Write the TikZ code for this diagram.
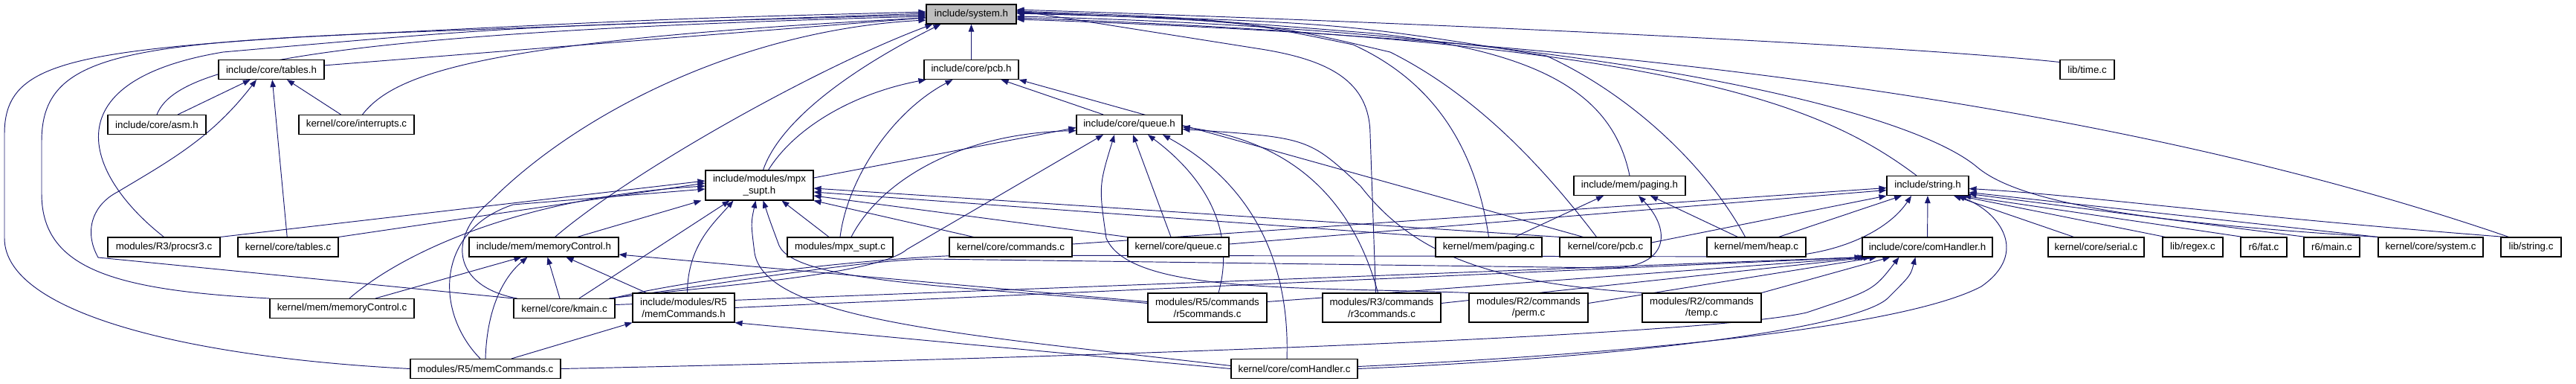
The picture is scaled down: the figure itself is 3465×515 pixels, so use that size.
\documentclass[tikz,border=0pt]{standalone}
\usepackage{fontspec}
\setmainfont{Liberation Sans}
\usetikzlibrary{arrows.meta}
\definecolor{edgec}{HTML}{191970}
\definecolor{selfill}{HTML}{BFBFBF}
\pgfdeclarelayer{bg}
\pgfsetlayers{bg,main}
\begin{document}
\begin{tikzpicture}[x=1pt,y=-1pt,
  box/.style={draw=black, line width=1.1pt, fill=white, inner sep=0pt, minimum height=26pt,
    font=\fontsize{13.3}{15.5}\selectfont, align=center},
  tbox/.style={box, minimum height=40pt},
  inc/.style={draw=edgec, line width=0.95pt, -{Triangle[length=10pt,width=7.5pt]}}]
\useasboundingbox (0,0) rectangle (3465,515);
% row 0
\node[box, fill=selfill, minimum width=121pt] (S) at (1306.5,19) {include/system.h};
% row 1
\node[box, minimum width=142pt] (tables) at (365,93.5) {include/core/tables.h};
\node[box, minimum width=127pt] (pcbh) at (1306.5,93.5) {include/core/pcb.h};
\node[box, minimum width=73pt] (libtime) at (2807.5,93.5) {lib/time.c};
% row 2
\node[box, minimum width=132pt] (asm) at (211,167.5) {include/core/asm.h};
\node[box, minimum width=155pt] (intr) at (479.5,167.5) {kernel/core/interrupts.c};
\node[box, minimum width=142pt] (queueh) at (1519,167.5) {include/core/queue.h};
% row 3
\node[tbox, minimum width=145pt] (mpxh) at (1021.5,249) {include/modules/mpx\\\_supt.h};
\node[box, minimum width=150pt] (pagingh) at (2192,249.5) {include/mem/paging.h};
\node[box, minimum width=110pt] (strh) at (2593,249.5) {include/string.h};
% row 4
\node[box, minimum width=151pt] (procsr3) at (220.5,332) {modules/R3/procsr3.c};
\node[box, minimum width=135pt] (tablesc) at (387.5,332) {kernel/core/tables.c};
\node[box, minimum width=201pt] (mch) at (731.5,332) {include/mem/memoryControl.h};
\node[box, minimum width=142pt] (mpxc) at (1130,332) {modules/mpx\_supt.c};
\node[box, minimum width=165pt] (cmdc) at (1359.5,332) {kernel/core/commands.c};
\node[box, minimum width=136pt] (queuec) at (1585,332) {kernel/core/queue.c};
\node[box, minimum width=143pt] (pagingc) at (2002.5,332) {kernel/mem/paging.c};
\node[box, minimum width=123pt] (pcbc) at (2159.5,332) {kernel/core/pcb.c};
\node[box, minimum width=133pt] (heapc) at (2362.5,332) {kernel/mem/heap.c};
\node[box, minimum width=175pt] (comhh) at (2592.5,332) {include/core/comHandler.h};
\node[box, minimum width=129pt] (serial) at (2819.5,332) {kernel/core/serial.c};
\node[box, minimum width=81pt] (regex) at (2949.5,332) {lib/regex.c};
\node[box, minimum width=62pt] (fat) at (3045,332) {r6/fat.c};
\node[box, minimum width=75pt] (mainc) at (3136.5,332) {r6/main.c};
\node[box, minimum width=141pt] (sysc) at (3269.5,332) {kernel/core/system.c};
\node[box, minimum width=81pt] (strc) at (3404.5,332) {lib/string.c};
% row 5
\node[box, minimum width=194pt] (mcc) at (460,414.5) {kernel/mem/memoryControl.c};
\node[box, minimum width=136pt] (kmain) at (759,414.5) {kernel/core/kmain.c};
\node[tbox, minimum width=137pt, minimum height=39pt] (mcmdh) at (919.5,413.5) {include/modules/R5\\/memCommands.h};
\node[tbox, minimum width=160pt, minimum height=39pt] (r5) at (1624,413.5) {modules/R5/commands\\/r5commands.c};
\node[tbox, minimum width=159pt, minimum height=39pt] (r3) at (1858.5,413.5) {modules/R3/commands\\/r3commands.c};
\node[tbox, minimum width=160pt, minimum height=39pt] (perm) at (2056,413.5) {modules/R2/commands\\/perm.c};
\node[tbox, minimum width=160pt, minimum height=39pt] (temp) at (2289,413.5) {modules/R2/commands\\/temp.c};
% row 6
\node[box, minimum width=202pt] (mcmdc) at (653,495.5) {modules/R5/memCommands.c};
\node[box, minimum width=170pt] (comhc) at (1741,495.5) {kernel/core/comHandler.c};

\begin{pgfonlayer}{bg}
% ---- to system.h, left side
\draw[inc] (tables) -- (S);
\draw[inc] (asm.north) .. controls (235,95) and (380,45) .. ([yshift=-3pt]S.west);
\draw[inc] ([xshift=8pt]intr.north) .. controls (530,100) and (640,55) .. ([yshift=-5pt]S.west);
\draw[inc] (procsr3.north) .. controls (120,240) and (60,110) .. (300,70) .. controls (700,35) .. ([yshift=-1pt]S.west);
\draw[inc] (mcc.north west) .. controls (150,390) and (56,360) .. (56,260) -- (56,190) .. controls (56,80) and (150,60) .. (500,45) .. controls (900,30) .. ([yshift=1pt]S.west);
\draw[inc] (mcmdc.west) .. controls (250,480) and (6,420) .. (6,320) -- (6,180) .. controls (6,90) and (80,70) .. (400,50) .. controls (900,25) .. ([yshift=3pt]S.west);
\draw[inc] ([xshift=5pt]kmain.north west) .. controls (610,385) and (600,320) .. (660,270) .. controls (780,150) and (1000,40) .. ([yshift=-8pt]S.west);
\draw[inc] ([xshift=15pt]mch.north) .. controls (850,230) and (1100,90) .. ([xshift=9pt]S.south west);
\draw[inc] ([xshift=5pt]mpxh.north) .. controls (1050,160) and (1150,90) .. ([xshift=20pt]S.south west);
\draw[inc] (pcbh) -- (S);
% ---- to system.h, right side
\draw[inc] ([yshift=10pt]libtime.west) .. controls (2550,60) and (1900,30) .. ([yshift=6pt]S.east);
\draw[inc] ([xshift=-15pt]strh.north) .. controls (2450,140) and (2250,55) .. ([yshift=-5pt]S.east);
\draw[inc] ([xshift=-30pt]strc.north) .. controls (3000,190) and (2400,60) .. ([yshift=-7pt]S.east);
\draw[inc] (sysc.north west) .. controls (2900,300) and (2720,275) .. (2660,225) .. controls (2560,140) and (2100,40) .. ([yshift=-3pt]S.east);
\draw[inc] (pagingh.north) .. controls (2170,130) and (2080,70) .. (1850,45) .. controls (1600,25) .. ([yshift=2pt]S.east);
\draw[inc] (pagingc.north) .. controls (1985,200) and (1930,110) .. (1820,60) .. controls (1650,25) .. ([yshift=4pt]S.east);
\draw[inc] ([xshift=-12pt]pcbc.north) .. controls (2080,230) and (1990,130) .. (1870,70) .. controls (1700,30) .. ([yshift=3pt]S.east);
\draw[inc] ([xshift=-15pt]heapc.north) .. controls (2300,230) and (2200,130) .. (2080,75) .. controls (1800,30) .. ([yshift=1pt]S.east);
\draw[inc] ([xshift=-8pt]r3.north) -- (1843,180) .. controls (1842,110) and (1790,80) .. (1690,65) .. controls (1500,35) .. ([yshift=5pt]S.east);
% ---- to tables.h
\draw[inc] (asm) -- (tables);
\draw[inc] (intr) -- (tables);
\draw[inc] (tablesc) -- (tables);
\draw[inc] (kmain.north west) -- (132,346) .. controls (112,310) and (125,275) .. (158,258) .. controls (230,215) and (285,185) .. ([xshift=-20pt]tables.south);
% ---- to pcb.h
\draw[inc] ([xshift=12pt]mpxh.north) .. controls (1070,170) and (1150,125) .. ([xshift=3pt]pcbh.south west);
\draw[inc] (mpxc.north) .. controls (1140,240) and (1200,150) .. ([xshift=-25pt]pcbh.south);
\draw[inc] ([xshift=-35pt]queueh.north) -- ([xshift=40pt]pcbh.south);
\draw[inc] ([xshift=-30pt]pcbc.north) -- (pcbh.south east);
% ---- to queue.h
\draw[inc] ([yshift=10pt]mpxh.east) -- ([yshift=-4pt]queueh.west);
\draw[inc] ([xshift=15pt]mpxc.north) .. controls (1180,250) and (1280,180) .. ([yshift=-8pt]queueh.west);
\draw[inc] ([xshift=-8pt]kmain.north east) .. controls (950,385) and (1180,370) .. (1220,335) -- ([xshift=-35pt]queueh.south);
\draw[inc] ([xshift=-10pt]queuec.north) -- ([xshift=5pt]queueh.south);
\draw[inc] ([xshift=15pt]r5.north) .. controls (1665,300) and (1610,230) .. ([xshift=25pt]queueh.south);
\draw[inc] ([xshift=-10pt]comhc.north) .. controls (1735,360) and (1690,250) .. ([xshift=45pt]queueh.south);
\draw[inc] ([xshift=-5pt]r3.north) .. controls (1820,270) and (1740,190) .. ([yshift=-3pt]queueh.east);
\draw[inc] (temp.north west) .. controls (2000,380) and (1900,340) .. (1830,250) .. controls (1760,185) .. ([yshift=-6pt]queueh.east);
\draw[inc] (perm.north west) .. controls (1750,385) and (1520,395) .. (1488,320) .. controls (1478,250) .. ([xshift=-20pt]queueh.south);
% ---- to mpx_supt.h
\draw[inc] (procsr3.north east) -- ([yshift=6pt]mpxh.west);
\draw[inc] (tablesc.north east) -- ([yshift=3pt]mpxh.west);
\draw[inc] ([xshift=10pt]mcc.north) .. controls (540,340) and (700,265) .. ([yshift=-1pt]mpxh.west);
\draw[inc] ([xshift=-7pt]mcmdc.north) .. controls (585,420) and (585,310) .. (690,275) -- ([yshift=-5pt]mpxh.west);
\draw[inc] ([xshift=45pt]mch.north) -- ([xshift=-5pt]mpxh.south west);
\draw[inc] ([xshift=20pt]kmain.north) -- ([xshift=-40pt]mpxh.south);
\draw[inc] ([xshift=5pt]mcmdh.north) .. controls (925,330) and (960,300) .. ([xshift=-35pt]mpxh.south);
\draw[inc] ([yshift=6pt]r5.west) .. controls (1300,385) and (1070,380) .. (1048,330) .. controls (1035,295) .. ([xshift=5pt]mpxh.south);
\draw[inc] ([yshift=4pt]comhc.west) .. controls (1300,450) and (1030,430) .. (1015,340) .. controls (1010,300) .. ([xshift=-5pt]mpxh.south);
\draw[inc] ([xshift=-15pt]mpxc.north) -- ([xshift=30pt]mpxh.south);
\draw[inc] ([xshift=-50pt]cmdc.north) -- (mpxh.south east);
\draw[inc] (queuec.north west) -- ([yshift=-14pt]mpxh.east);
\draw[inc] (pagingc.north west) -- ([yshift=-9pt]mpxh.east);
\draw[inc] (pcbc.north west) -- ([yshift=-4pt]mpxh.east);
% ---- to memoryControl.h
\draw[inc] ([xshift=45pt]mcc.north) -- ([xshift=-30pt]mch.south);
\draw[inc] (mcmdc.north) .. controls (655,410) and (680,370) .. ([xshift=-22pt]mch.south);
\draw[inc] ([xshift=-6pt]kmain.north) -- ([xshift=5pt]mch.south);
\draw[inc] ([xshift=-50pt]mcmdh.north) -- ([xshift=30pt]mch.south);
\draw[inc] ([yshift=8pt]r5.west) -- ([yshift=-10pt]mch.east);
% ---- to memCommands.h
\draw[inc] ([xshift=35pt]mcmdc.north) -- (mcmdh.south west);
\draw[inc] (comhc.west) -- (mcmdh.south east);
% ---- to paging.h
\draw[inc] ([xshift=35pt]pagingc.north) -- ([xshift=-35pt]pagingh.south);
\draw[inc] ([xshift=-25pt]heapc.north) -- ([xshift=28pt]pagingh.south);
\draw[inc] ([xshift=-8pt]kmain.north east) .. controls (950,385) and (1150,350) .. (1250,348) -- (2160,360) .. controls (2245,362) and (2250,310) .. ([xshift=12pt]pagingh.south);
% ---- to string.h
\draw[inc] (comhh) -- (strh);
\draw[inc] ([yshift=4pt]cmdc.east) -- ([yshift=-3pt]strh.west);
\draw[inc] ([yshift=4pt]queuec.east) -- ([yshift=-6pt]strh.west);
\draw[inc] ([yshift=6pt]pcbc.east) -- (strh.south west);
\draw[inc] ([xshift=30pt]heapc.north) -- ([xshift=-35pt]strh.south);
\draw[inc] ([xshift=-4pt]kmain.north east) .. controls (950,370) and (1200,345) .. (1300,343) -- (2380,345) .. controls (2470,345) and (2540,310) .. ([xshift=-22pt]strh.south);
\draw[inc] ([yshift=3pt]comhc.east) .. controls (2200,475) and (2560,440) .. (2665,385) .. controls (2730,340) and (2690,285) .. ([xshift=40pt]strh.south);
\draw[inc] ([xshift=-30pt]serial.north) -- ([xshift=35pt]strh.south);
\draw[inc] ([xshift=-37pt]regex.north) -- ([xshift=42pt]strh.south);
\draw[inc] ([xshift=-28pt]fat.north) -- ([xshift=48pt]strh.south);
\draw[inc] ([xshift=-35pt]mainc.north) -- ([yshift=-11pt]strh.east);
\draw[inc] (sysc.north west) -- ([yshift=-9pt]strh.east);
\draw[inc] ([xshift=-35pt]strc.north) .. controls (3000,290) and (2800,262) .. ([yshift=-4pt]strh.east);
% ---- to comHandler.h
\draw[inc] ([yshift=5pt]kmain.east) -- (comhh.south west);
\draw[inc] (mcmdh.east) -- ([xshift=4pt]comhh.south west);
\draw[inc] ([yshift=8pt]r5.east) -- ([xshift=8pt]comhh.south west);
\draw[inc] ([yshift=6pt]r3.east) -- ([xshift=12pt]comhh.south west);
\draw[inc] ([yshift=6pt]perm.east) -- ([xshift=20pt]comhh.south west);
\draw[inc] (temp.north east) -- ([xshift=38pt]comhh.south west);
\draw[inc] (mcmdc.east) .. controls (1500,480) and (2300,450) .. (2430,420) .. controls (2520,390) .. ([xshift=50pt]comhh.south west);
\draw[inc] (comhc.east) .. controls (2200,480) and (2500,440) .. (2540,400) .. controls (2570,370) .. ([xshift=72pt]comhh.south west);
\end{pgfonlayer}
\end{tikzpicture}
\end{document}
